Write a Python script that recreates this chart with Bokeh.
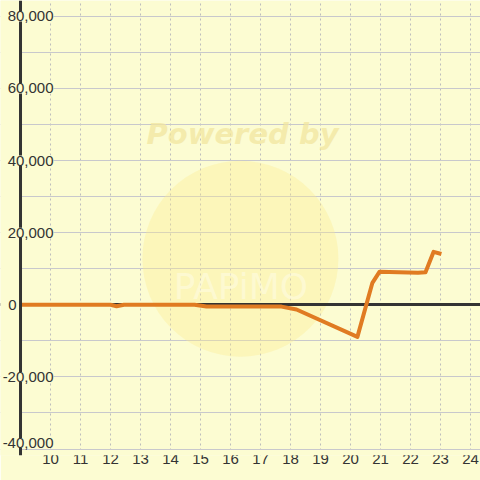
from bokeh.plotting import figure
from bokeh.models import FixedTicker, Range1d, ColumnDataSource, LabelSet, Label, BoxAnnotation, Span
from bokeh.core.properties import value
from bokeh.embed import file_html
from bokeh.resources import INLINE

# ---- data ----
hours = [9.0, 12.0, 12.2, 12.45, 14.8, 15.2, 17.7, 18.2, 20.23, 20.73, 20.97, 22.25, 22.5, 22.77, 23.03]
values = [0, 0, -400, 0, 0, -500, -500, -1300, -8900, 6100, 9200, 8900, 9000, 14700, 14100]
x_ticks = list(range(10, 25))
y_ticks = [-40000, -20000, 0, 20000, 40000, 60000, 80000]
y_minor = [-30000, -10000, 10000, 30000, 50000, 70000]
y_labels = [f"{v:,}" for v in y_ticks]

BG = "#fcfcd2"
INK = "#333333"
ORANGE = "#e07b22"
AXIS_X = 9.0

p = figure(width=480, height=480, output_backend="svg", toolbar_location=None,
           x_range=Range1d(8.333, 24.333), y_range=Range1d(-41803, 84410),
           min_border_left=0, min_border_right=0, min_border_top=0, min_border_bottom=25,
           background_fill_color=BG, border_fill_color=BG, outline_line_color=None)

p.yaxis.visible = False
p.xaxis.ticker = FixedTicker(ticks=x_ticks)
p.xaxis.axis_line_color = None
p.xaxis.major_tick_line_color = None
p.xaxis.minor_tick_line_color = None
p.xaxis.major_tick_out = 0
p.xaxis.major_tick_in = 0
p.xaxis.minor_tick_out = 0
p.xaxis.minor_tick_in = 0
p.xaxis.major_label_text_font = "Liberation Sans"
p.xaxis.major_label_text_font_size = "15px"
p.xaxis.major_label_text_color = INK
p.xaxis.major_label_standoff = -2

p.xgrid.ticker = FixedTicker(ticks=x_ticks)
p.xgrid.grid_line_color = "#bdbdbd"
p.xgrid.grid_line_dash = "2 3"
p.ygrid.ticker = FixedTicker(ticks=sorted(y_ticks + y_minor))
p.ygrid.grid_line_color = "#c8c8cc"

# watermark
p.circle(x=[16.33], y=[12778], radius=98, radius_units="screen",
         fill_color="#fbec90", fill_alpha=0.35, line_color=None)
p.text(x=[16.4], y=[47500], text=["Powered by"], text_align="center", text_baseline="middle",
       text_font=value("DejaVu Sans"), text_font_style="bold italic", text_font_size="29px",
       text_color="#f2e6a0", text_alpha=0.75)
p.text(x=[16.35], y=[5000], text=["PAPiMO"], text_align="center", text_baseline="middle",
       text_font=value("DejaVu Sans"), text_font_size="36px",
       text_color="#ffffff", text_alpha=0.35)

# zero line
p.hspan(y=[0], line_color=INK, line_width=3)

# series
p.line(hours, values, line_color=ORANGE, line_width=4, line_join="round")

# blank the margin left of the axis and below the lowest gridline
p.add_layout(BoxAnnotation(right=AXIS_X, fill_color=BG, fill_alpha=1.0, line_color=None))
p.add_layout(BoxAnnotation(top=y_ticks[0] - 300, fill_color=BG, fill_alpha=1.0, line_color=None))

# left axis line
p.add_layout(Span(location=AXIS_X, dimension="height", line_color=INK, line_width=3))

# y labels drawn over the axis line (the zero label sits left of the axis)
nz = [i for i, v in enumerate(y_ticks) if v != 0]
lab_src = ColumnDataSource(dict(
    x=[AXIS_X] * len(nz), y=[y_ticks[i] for i in nz], t=[y_labels[i] for i in nz],
    dy=[6 if y_ticks[i] == y_ticks[0] else 0 for i in nz]))
p.add_layout(LabelSet(x="x", y="y", text="t", x_offset=33, y_offset="dy", source=lab_src,
                      text_align="right", text_baseline="middle",
                      text_font=value("Liberation Sans"), text_font_size=value("15px"),
                      text_color=INK,
                      background_fill_color=BG, background_fill_alpha=1.0))
zi = y_ticks.index(0)
p.add_layout(Label(x=AXIS_X, y=y_ticks[zi], text=y_labels[zi], x_offset=-4,
                   text_align="right", text_baseline="middle",
                   text_font="Liberation Sans", text_font_size="15px", text_color=INK))

open("out.html", "w").write(file_html(p, INLINE))
